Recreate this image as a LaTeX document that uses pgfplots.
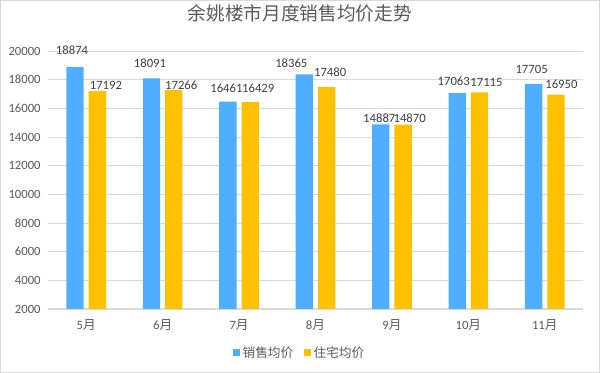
\documentclass[border=0pt]{standalone}
\usepackage{pgfplots}
\usepackage{pgfplotstable}
\pgfplotsset{compat=1.18}
\usepackage{fontspec}
\setmainfont{Carlito}
\newfontfamily\cjk{Noto Sans CJK SC}
\definecolor{sblue}{HTML}{4FAEFF}
\definecolor{syellow}{HTML}{FFC000}
\definecolor{txt}{HTML}{595959}
\definecolor{lbl}{HTML}{404040}
\definecolor{gridc}{HTML}{D9D9D9}
% x, value, label offset dx, dy (pt)
\pgfplotstableread{
x y dx dy
0 18874 -2.25 12.75
1 18091 -1.1 11.25
2 16461 -1.1 9.75
3 18365 -9.75 8.25
4 14887 -1.1 4.5
5 17063 -2.6 9
6 17705 -1.5 10.5
}\sales
\pgfplotstableread{
x y dx dy
0 17192 6.4 4.5
1 17266 5.6 3.75
2 16429 6 10.5
3 17480 2.6 11.25
4 14870 4.9 4.5
5 17115 5.25 7.5
6 16950 4.1 7.5
}\housing
\begin{document}
\begin{tikzpicture}
\useasboundingbox (-36pt,-48pt) rectangle (414pt,231.75pt);
\draw[gridc, line width=0.8pt] (-35.6pt,-47.6pt) rectangle (413.6pt,231.35pt);
\begin{axis}[
  at={(0,0)}, anchor=south west,
  scale only axis,
  width=401.25pt, height=193.5pt,
  ybar=3.75pt, bar width=13pt,
  xmin=-0.5, xmax=6.5,
  ymin=2000, ymax=20000,
  ytick={2000,4000,...,20000},
  xtick={0,1,2,3,4,5,6},
  xticklabels={5{\cjk 月},6{\cjk 月},7{\cjk 月},8{\cjk 月},9{\cjk 月},10{\cjk 月},11{\cjk 月}},
  scaled y ticks=false,
  /pgf/number format/.cd, 1000 sep={}, assume math mode=true, /pgfplots/.cd,
  ymajorgrids, grid style={gridc, line width=0.6pt},
  axis x line*=bottom, axis y line*=left,
  y axis line style={draw=none},
  x axis line style={draw=gridc, line width=0.8pt},
  major tick length=0pt,
  xticklabel style={font=\fontsize{9.5}{11}\selectfont, text=txt, yshift=-4pt},
  yticklabel style={font=\fontsize{9.5}{11}\selectfont, text=txt, xshift=-2pt},
  nodes near coords,
  visualization depends on={\thisrow{dx} \as \ldx},
  visualization depends on={\thisrow{dy} \as \ldy},
  every node near coord/.append style={font=\fontsize{9.5}{11}\selectfont, text=lbl,
     anchor=center, inner sep=0pt, xshift=\ldx pt, yshift=\ldy pt},
  title={\cjk 余姚楼市月度销售均价走势},
  title style={at={(0.471,1.114)}, anchor=center, font=\cjk\fontsize{14}{16}\selectfont, text=txt},
  legend columns=2,
  legend style={at={(0.471,-0.17)}, anchor=center, draw=none, fill=none,
    font=\cjk\fontsize{9.5}{11}\selectfont, text=txt,
    /tikz/every even column/.append style={column sep=6pt}},
  legend image code/.code={\fill[#1] (0pt,-2.6pt) rectangle (5.2pt,2.6pt);},
]
\addplot[fill=sblue, draw=none] table[x=x, y=y] {\sales};
\addplot[fill=syellow, draw=none] table[x=x, y=y] {\housing};
\legend{销售均价,住宅均价}
\end{axis}
\end{tikzpicture}
\end{document}
